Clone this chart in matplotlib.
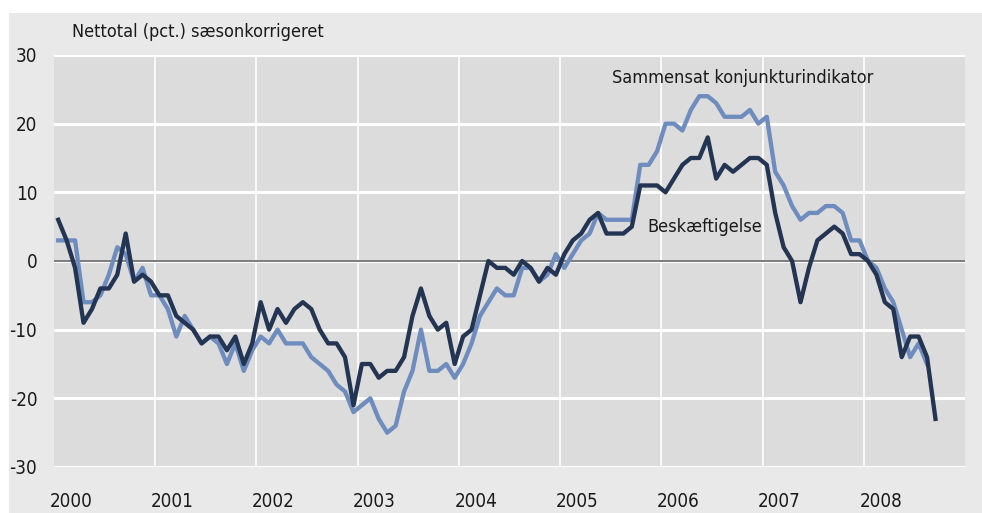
import numpy as np
import matplotlib
matplotlib.use("Agg")
import matplotlib.pyplot as plt
from matplotlib.patches import Rectangle
from matplotlib import font_manager

# use a narrow face if there is one
names = {f.name for f in font_manager.fontManager.ttflist}
fams = [n for n in ['Liberation Sans Narrow', 'DejaVu Sans Condensed'] if n in names]
plt.rcParams['font.family'] = fams + ['DejaVu Sans']
plt.rcParams['font.stretch'] = 'condensed'

# monthly values, jan 2000 -> sep 2008
beskaeftigelse = [6, 3, -1, -9, -7, -4, -4, -2, 4, -3, -2, -3,
                  -5, -5, -8, -9, -10, -12, -11, -11, -13, -11, -15, -12,
                  -6, -10, -7, -9, -7, -6, -7, -10, -12, -12, -14, -21,
                  -15, -15, -17, -16, -16, -14, -8, -4, -8, -10, -9, -15,
                  -11, -10, -5, 0, -1, -1, -2, 0, -1, -3, -1, -2,
                  1, 3, 4, 6, 7, 4, 4, 4, 5, 11, 11, 11,
                  10, 12, 14, 15, 15, 18, 12, 14, 13, 14, 15, 15,
                  14, 7, 2, 0, -6, -1, 3, 4, 5, 4, 1, 1,
                  0, -2, -6, -7, -14, -11, -11, -14, -23]

# jan 2000 -> aug 2008
sammensat = [3, 3, 3, -6, -6, -5, -2, 2, 1, -3, -1, -5,
             -5, -7, -11, -8, -10, -12, -11, -12, -15, -12, -16, -13,
             -11, -12, -10, -12, -12, -12, -14, -15, -16, -18, -19, -22,
             -21, -20, -23, -25, -24, -19, -16, -10, -16, -16, -15, -17,
             -15, -12, -8, -6, -4, -5, -5, -1, -1, -3, -2, 1,
             -1, 1, 3, 4, 7, 6, 6, 6, 6, 14, 14, 16,
             20, 20, 19, 22, 24, 24, 23, 21, 21, 21, 22, 20,
             21, 13, 11, 8, 6, 7, 7, 8, 8, 7, 3, 3,
             0, -1, -4, -6, -10, -14, -12, -15]

years = ['2000', '2001', '2002', '2003', '2004', '2005', '2006', '2007', '2008']
y_ticks = [-30, -20, -10, 0, 10, 20, 30]

# months since jan 2000, plotted mid-month
x_b = np.arange(len(beskaeftigelse)) + 0.5
x_s = np.arange(len(sammensat)) + 0.5

fig = plt.figure(figsize=(9.82, 5.13), dpi=100)
fig.patches.append(Rectangle((9 / 982, 0), 1, 1 - 13 / 513, transform=fig.transFigure,
                             facecolor='#e9e9e9', edgecolor='none', zorder=-10))

ax = fig.add_axes([54 / 982, 1 - 467 / 513, (965 - 54) / 982, (467 - 55) / 513])
ax.set_facecolor('#dcdcdc')

ax.plot(x_s, sammensat, color='#6f8cbf', lw=3.1, zorder=3)
ax.plot(x_b, beskaeftigelse, color='#233552', lw=3.1, zorder=4)
ax.axhline(0, color='#666666', lw=1.2, zorder=2)

ax.set_xlim(0, 108)
ax.set_ylim(-30, 30)
ax.set_yticks(y_ticks)
ax.set_yticklabels([str(v) for v in y_ticks])
ax.set_xticks(np.arange(12, 108, 12))
ax.set_xticklabels([])
ax.set_xticks(np.arange(len(years)) * 12 + 2, minor=True)
ax.set_xticklabels(years, minor=True)

ax.grid(axis='y', color='white', lw=2.2, zorder=1)
ax.grid(axis='x', which='major', color='white', lw=1.2, zorder=1)
ax.set_axisbelow(True)
for s in ax.spines.values():
    s.set_visible(False)
ax.tick_params(axis='both', which='both', length=0, labelsize=13.5, labelcolor='#1a1a1a')
ax.tick_params(axis='y', pad=12)
ax.tick_params(axis='x', which='minor', pad=18)

ax.text(66.2, 26.7, 'Sammensat konjunkturindikator', fontsize=13, color='#1a1a1a',
        ha='left', va='center')
ax.text(70.3, 5, 'Beskæftigelse', fontsize=13, color='#1a1a1a', ha='left', va='center')
fig.text(72 / 982, 1 - 32 / 513, 'Nettotal (pct.) sæsonkorrigeret', fontsize=13,
         color='#1a1a1a', ha='left', va='center')

fig.savefig('out.png', dpi=100)
